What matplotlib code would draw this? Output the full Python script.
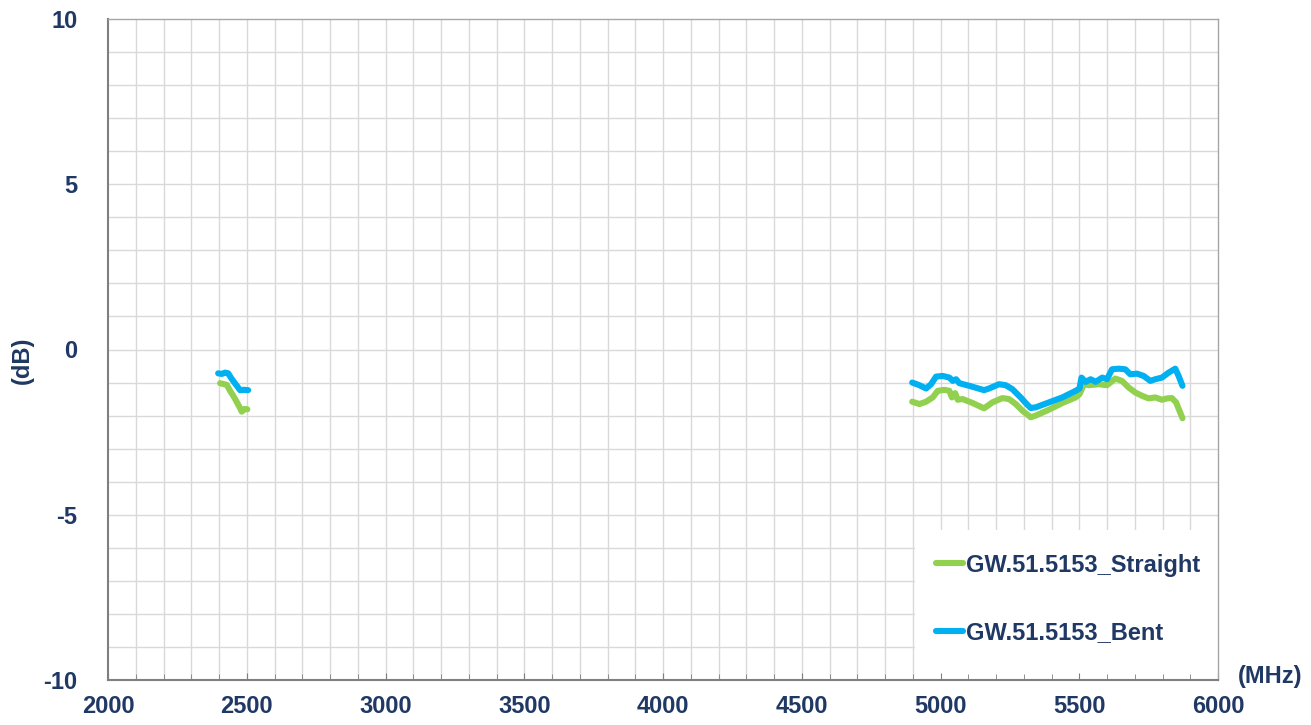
import matplotlib
matplotlib.use("Agg")
import matplotlib.pyplot as plt
from matplotlib.patches import Rectangle

# ---- data ----
straight_24_f = [2404, 2428, 2440, 2455, 2470, 2482, 2492, 2502]
straight_24_db = [-1.02, -1.07, -1.25, -1.45, -1.68, -1.88, -1.80, -1.81]
bent_24_f = [2397, 2410, 2422, 2433, 2445, 2460, 2476, 2490, 2505]
bent_24_db = [-0.72, -0.74, -0.70, -0.72, -0.88, -1.05, -1.23, -1.22, -1.23]

straight_5_f = [4898, 4924, 4948, 4972, 4990, 5014, 5032, 5041, 5053, 5062, 5080, 5116, 5157,
                5187, 5223, 5247, 5271, 5295, 5325, 5343, 5391, 5439, 5487, 5501, 5517, 5535,
                5571, 5600, 5630, 5654, 5678, 5702, 5726, 5750, 5774, 5798, 5816, 5834, 5849, 5872]
straight_5_db = [-1.58, -1.65, -1.58, -1.45, -1.25, -1.22, -1.25, -1.45, -1.32, -1.52, -1.50, -1.62, -1.78,
                 -1.60, -1.47, -1.50, -1.65, -1.85, -2.05, -2.00, -1.82, -1.62, -1.45, -1.35, -1.05, -1.08,
                 -1.05, -1.08, -0.88, -0.95, -1.15, -1.30, -1.40, -1.48, -1.45, -1.52, -1.48, -1.47, -1.60, -2.08]
bent_5_f = [4898, 4924, 4948, 4966, 4984, 5008, 5032, 5044, 5056, 5068, 5104, 5157, 5175, 5211,
            5235, 5259, 5289, 5307, 5325, 5343, 5391, 5439, 5487, 5501, 5508, 5523, 5541, 5559,
            5583, 5600, 5618, 5642, 5666, 5684, 5708, 5732, 5756, 5774, 5798, 5822, 5846, 5858, 5872]
bent_5_db = [-1.00, -1.08, -1.18, -1.05, -0.82, -0.80, -0.85, -0.95, -0.90, -1.02, -1.10, -1.23, -1.18, -1.05,
             -1.08, -1.20, -1.45, -1.62, -1.77, -1.75, -1.60, -1.45, -1.25, -1.18, -0.85, -0.98, -0.90, -0.98,
             -0.85, -0.90, -0.60, -0.58, -0.60, -0.75, -0.73, -0.80, -0.95, -0.90, -0.85, -0.70, -0.58, -0.80, -1.10]

labels = ["GW.51.5153_Straight", "GW.51.5153_Bent"]
x_ticks = [2000, 2500, 3000, 3500, 4000, 4500, 5000, 5500, 6000]
y_ticks = [-10, -5, 0, 5, 10]
x_grid = list(range(2100, 6000, 100))
y_grid = list(range(-9, 10, 1))

green = "#92D050"
blue = "#00B0F0"
navy = "#1F3864"

plt.rcParams["font.family"] = ["Liberation Sans", "DejaVu Sans"]
plt.rcParams["axes.unicode_minus"] = False

fig = plt.figure(figsize=(13.11, 7.25), dpi=100)
ax = fig.add_axes([108/1311, 1-680/725, (1218-108)/1311, (680-19)/725])

# grid drawn as plain lines so that the legend background can sit above it
for xv in x_grid:
    ax.axvline(xv, color="#D9D9D9", lw=1.0, zorder=0.2)
for yv in y_grid:
    ax.axhline(yv, color="#D9D9D9", lw=1.0, zorder=0.2)

# legend background (white box, covers grid but not axis ticks)
ax.add_patch(Rectangle((0.727, 0.0), 0.273, 0.227, transform=ax.transAxes,
                       facecolor="white", edgecolor="none", zorder=0.5))

lw = 4.4
kw = dict(lw=lw, solid_capstyle="round", solid_joinstyle="round", zorder=3)
ax.plot(straight_24_f, straight_24_db, color=green, label=labels[0], **kw)
ax.plot(straight_5_f, straight_5_db, color=green, **kw)
ax.plot(bent_24_f, bent_24_db, color=blue, label=labels[1], **kw)
ax.plot(bent_5_f, bent_5_db, color=blue, **kw)

ax.set_xlim(2000, 6000)
ax.set_ylim(-10, 10)
ax.set_xticks(x_ticks)
ax.set_xticks(x_grid, minor=True)
ax.set_yticks(y_ticks)

for s in ["top", "right"]:
    ax.spines[s].set_color("#A6A6A6")
    ax.spines[s].set_linewidth(1.0)
for s in ["left", "bottom"]:
    ax.spines[s].set_color("#7F7F7F")
    ax.spines[s].set_linewidth(1.5)

fs = 17
ax.tick_params(axis="x", which="both", direction="in", length=5, color="#7F7F7F",
               labelsize=fs, labelcolor=navy, pad=11)
ax.tick_params(axis="x", which="minor", length=4)
ax.tick_params(axis="y", which="both", length=0, labelsize=fs, labelcolor=navy, pad=22)
for t in ax.get_xticklabels() + ax.get_yticklabels():
    t.set_fontweight("bold")

fig.text(22/1311, 1-360/725, "(dB)", rotation=90, ha="center", va="center",
         fontsize=fs, fontweight="bold", color=navy)
fig.text(1270/1311, 1-676/725, "(MHz)", ha="center", va="center",
         fontsize=fs, fontweight="bold", color=navy)

leg = fig.legend(loc="center left", bbox_to_anchor=(924/1311, 1-599/725), frameon=False,
                 handlelength=1.15, handletextpad=0.12, labelspacing=1.9, borderpad=0.0,
                 prop={"weight": "bold", "size": fs})
for t in leg.get_texts():
    t.set_color(navy)
for h in leg.get_lines():
    h.set_linewidth(4.4)

fig.savefig("out.png", dpi=100)
